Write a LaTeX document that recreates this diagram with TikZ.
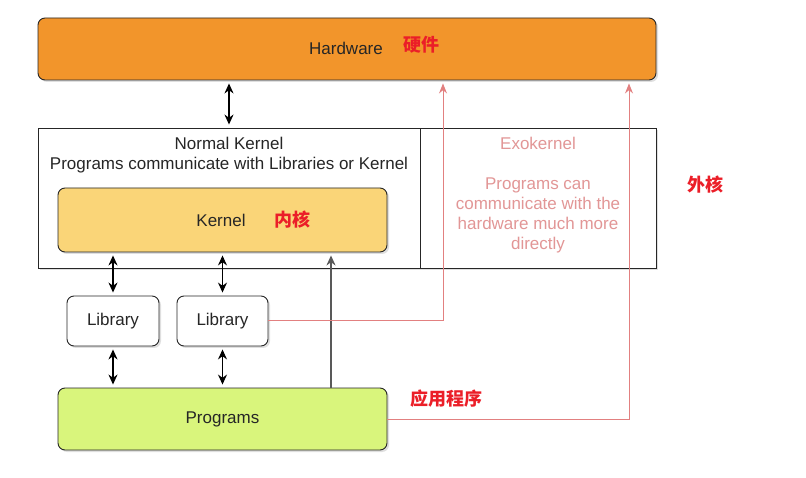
\documentclass[tikz,border=0pt]{standalone}
\usepackage{fontspec}
\setmainfont{Liberation Sans}
\newfontfamily\cjk{Noto Sans CJK SC}
\usetikzlibrary{shadows, arrows.meta}
\definecolor{hwfill}{RGB}{242,149,43}
\definecolor{kfill}{RGB}{250,213,120}
\definecolor{pfill}{RGB}{217,245,124}
\definecolor{exopink}{RGB}{226,128,128}
\definecolor{exotext}{RGB}{226,150,150}
\definecolor{cnred}{RGB}{235,30,40}
\tikzset{
    box/.style={draw=black!85, line width=0.9pt, rounded corners=7pt, inner sep=0pt,
        drop shadow={opacity=0.25, shadow xshift=2pt, shadow yshift=-2pt}},
    panel/.style={draw=black!85, line width=0.9pt, inner sep=0pt, fill=white,
        drop shadow={opacity=0.25, shadow xshift=2pt, shadow yshift=-2pt}},
    txt/.style={font=\fontsize{17}{20}\selectfont, text=black!85, align=center},
    cn/.style={font=\cjk\bfseries\fontsize{18}{20}\selectfont, text=cnred},
    link/.style={<->, line width=1.3pt, shorten <=3pt, shorten >=3pt},
    exolink/.style={->, exopink, line width=1pt, >={Stealth[length=10pt,width=8pt]}}
}
\begin{document}
\begin{tikzpicture}[x=1pt, y=-1pt, >={Stealth[length=10pt,width=9pt]}]
    \useasboundingbox (0,0) rectangle (806,478);

    % hardware
    \node[box, fill=hwfill, minimum width=618pt, minimum height=62pt] (hw) at (347,49) {};
    \node[txt] (hwtxt) at (346,48) {Hardware};
    \node[cn] (hwcn) at (421,45) {硬件};

    % kernel panels
    \node[panel, minimum width=382pt, minimum height=140pt] (normal) at (229,198) {};
    \node[panel, minimum width=236pt, minimum height=140pt] (exo) at (538,198) {};
    \node[txt] (normaltxt) at (229,155) {Normal Kernel\\Programs communicate with Libraries or Kernel};
    \node[txt, text=exotext] (exotxt) at (538,195)
        {Exokernel\\ \\Programs can\\communicate with the\\hardware much more\\directly};
    \node[cn] (exocn) at (705,185) {外核};

    \node[box, fill=kfill, minimum width=329pt, minimum height=64pt] (kernel) at (222.5,220) {};
    \node[txt] (ktxt) at (221,220) {Kernel};
    \node[cn] (kcn) at (292,220) {内核};

    % libraries and programs
    \node[box, fill=white, minimum width=92pt, minimum height=50pt, txt] (lib1) at (113,321) {Library};
    \node[box, fill=white, minimum width=91pt, minimum height=50pt, txt] (lib2) at (222.5,321) {Library};
    \node[box, fill=pfill, minimum width=329pt, minimum height=62pt, txt] (prog) at (222.5,419) {Programs};
    \node[cn] (progcn) at (446,399) {应用程序};

    % connectors
    \draw[link] (hw.south -| normal) -- (normal.north);
    \draw[link] (kernel.south -| lib1) -- (lib1.north);
    \draw[link] (kernel.south -| lib2) -- (lib2.north);
    \draw[link] (lib1.south) -- (prog.north -| lib1);
    \draw[link] (lib2.south) -- (prog.north -| lib2);

    \coordinate (tap) at (331,0);
    \draw[->, black!65, line width=1.3pt, shorten >=3pt] (prog.north -| tap) -- (kernel.south -| tap);

    \coordinate (exoA) at (443,0);
    \coordinate (exoB) at (629,0);
    \draw[exolink, shorten >=3pt] (lib2.east) -| (hw.south -| exoA);
    \draw[exolink, shorten >=3pt] (prog.east) -| (hw.south -| exoB);
\end{tikzpicture}
\end{document}
